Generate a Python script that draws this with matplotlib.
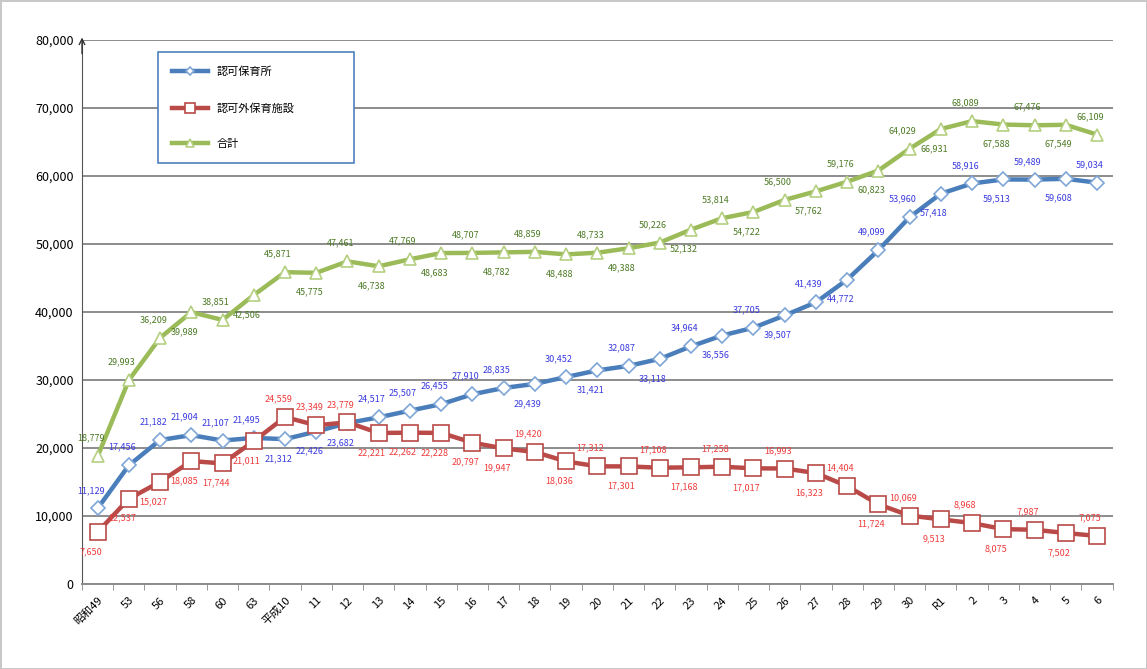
import matplotlib
matplotlib.use("Agg")
import matplotlib.pyplot as plt
from matplotlib.ticker import FuncFormatter, FixedLocator

plt.rcParams['font.family'] = ['Noto Sans CJK JP', 'DejaVu Sans']

# 年度（x軸）
years = ['昭和49', '53', '56', '58', '60', '63', '平成10', '11', '12', '13', '14',
         '15', '16', '17', '18', '19', '20', '21', '22', '23', '24', '25', '26',
         '27', '28', '29', '30', 'R1', '2', '3', '4', '5', '6']

# 認可保育所
ninka = [11129, 17456, 21182, 21904, 21107, 21495, 21312, 22426, 23682, 24517,
         25507, 26455, 27910, 28835, 29439, 30452, 31421, 32087, 33118, 34964,
         36556, 37705, 39507, 41439, 44772, 49099, 53960, 57418, 58916, 59513,
         59489, 59608, 59034]

# 認可外保育施設
ninkagai = [7650, 12537, 15027, 18085, 17744, 21011, 24559, 23349, 23779, 22221,
            22262, 22228, 20797, 19947, 19420, 18036, 17312, 17301, 17108, 17168,
            17258, 17017, 16993, 16323, 14404, 11724, 10069, 9513, 8968, 8075,
            7987, 7502, 7075]

# 合計
total = [18779, 29993, 36209, 39989, 38851, 42506, 45871, 45775, 47461, 46738,
         47769, 48683, 48707, 48782, 48859, 48488, 48733, 49388, 50226, 52132,
         53814, 54722, 56500, 57762, 59176, 60823, 64029, 66931, 68089, 67588,
         67476, 67549, 66109]

# ラベルの位置 (a=上, b=下)
pos_ninka = "aaaaaa" + "bbb" + "aaaaa" + "babababababa" + "abababa"
pos_gai = "bbbbbb" + "aaa" + "bbbbb" + "ab" * 9 + "a"
pos_total = "aaab" + "ab" * 14 + "a"

fig = plt.figure(figsize=(11.47, 6.69), dpi=100)
fig.patch.set_edgecolor('#c8c8c8')
fig.patch.set_linewidth(2)
ax = fig.add_axes([0.0715, 0.127, 0.8985, 0.813])

x = list(range(len(years)))

ax.plot(x, ninka, color='#4a7ebb', lw=3.2, marker='D', ms=7, mfc='white',
        mec='#7fa6d6', mew=1.2, label='認可保育所', zorder=3)
ax.plot(x, ninkagai, color='#b94a48', lw=3.2, marker='s', ms=11, mfc='white',
        mec='#b94a48', mew=1.2, label='認可外保育施設', zorder=4)
ax.plot(x, total, color='#9bbb59', lw=3.2, marker='^', ms=9, mfc='white',
        mec='#b5cf80', mew=1.2, label='合計', zorder=3)

def put_labels(vals, where, color):
    for i, v in enumerate(vals):
        dy = 13 if where[i] == 'a' else -14
        ax.annotate(f"{v:,}", (i, v), xytext=(-5, dy), textcoords='offset points',
                    ha='center', va='center', fontsize=6.5, color=color, zorder=6)

put_labels(ninka, pos_ninka, '#3a3adf')
put_labels(ninkagai, pos_gai, '#ef3b3b')
put_labels(total, pos_total, '#4c7a24')

ax.set_xlim(-0.5, len(years) - 0.5)
ax.set_ylim(0, 80000)
ax.yaxis.set_major_locator(FixedLocator(range(0, 80001, 10000)))
ax.yaxis.set_major_formatter(FuncFormatter(lambda v, p: f"{int(v):,}"))
ax.grid(axis='y', color='#8c8c8c', lw=1.4)
ax.set_axisbelow(True)

ax.set_xticks(x)
ax.set_xticklabels(years, rotation=45, ha='right', rotation_mode='anchor', fontsize=8)
ax.tick_params(axis='x', length=0, pad=8)
ax.set_xticks([i - 0.5 for i in range(len(years) + 1)], minor=True)
ax.tick_params(axis='x', which='minor', length=4, color='#888888')
ax.tick_params(axis='y', labelsize=9, length=0, pad=6)

for s in ['top', 'right']:
    ax.spines[s].set_visible(False)
ax.spines['bottom'].set_color('#8c8c8c')
ax.spines['bottom'].set_linewidth(1.4)
ax.spines['left'].set_color('#555555')
ax.annotate('', xy=(0, 1.01), xytext=(0, 0.97), xycoords='axes fraction',
            arrowprops=dict(arrowstyle='->', color='#333333', lw=1))

leg = ax.legend(loc='upper left', bbox_to_anchor=(0.1325, 0.93, 0.181, 0.0),
                bbox_transform=fig.transFigure, mode='expand', fontsize=8,
                handlelength=3.2, labelspacing=2.3, borderpad=1.3,
                markerscale=0.6, fancybox=False, framealpha=1)
leg.get_frame().set_edgecolor('#4f81bd')
leg.get_frame().set_linewidth(1.2)

fig.savefig('out.png', dpi=100)
